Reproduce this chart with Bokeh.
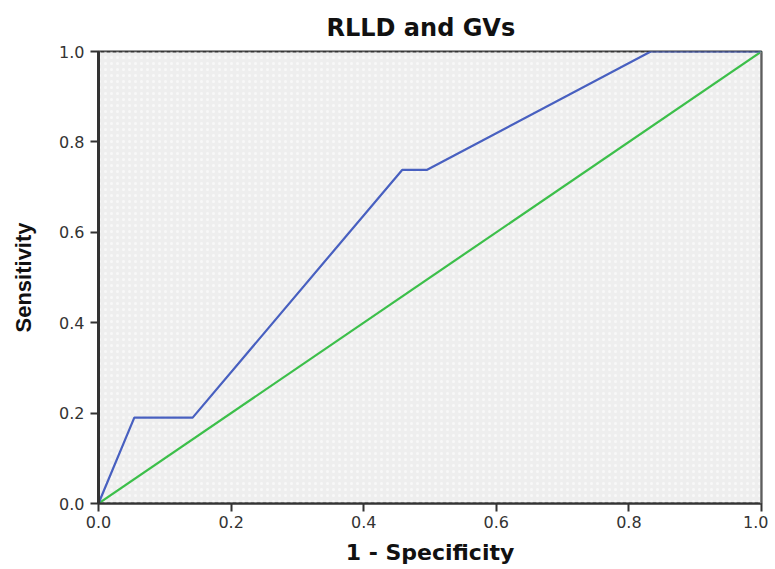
from bokeh.plotting import figure
from bokeh.embed import file_html
from bokeh.resources import INLINE
from bokeh.models import FixedTicker, PrintfTickFormatter, Span, Range1d, BoxAnnotation

# ROC curve data
fpr = [0.0, 0.054, 0.142, 0.458, 0.495, 0.833, 1.0]
tpr = [0.0, 0.190, 0.190, 0.738, 0.738, 1.0, 1.0]
ref_x = [0.0, 1.0]
ref_y = [0.0, 1.0]
ticks = [0.0, 0.2, 0.4, 0.6, 0.8, 1.0]
title_text = "RLLD and GVs"

p = figure(width=768, height=569, output_backend="svg", toolbar_location=None,
           x_range=Range1d(0, 1), y_range=Range1d(0, 1),
           min_border_left=98, min_border_right=7, min_border_top=51, min_border_bottom=66,
           title=title_text)

p.background_fill_color = "#eeeeee"
p.border_fill_color = "white"
p.grid.visible = False
p.outline_line_color = "#333333"
p.outline_line_width = 2

p.add_layout(BoxAnnotation(fill_alpha=0, line_alpha=0, hatch_pattern=".",
                           hatch_color="white", hatch_alpha=0.6, hatch_scale=6,
                           level="underlay"))

p.title.align = "left"
p.title.offset = 228
p.title.standoff = 20
p.title.text_font = "DejaVu Sans"
p.title.text_font_style = "bold"
p.title.text_font_size = "24px"
p.title.text_color = "#111111"

for ax in (p.xaxis[0], p.yaxis[0]):
    ax.ticker = FixedTicker(ticks=ticks)
    ax.formatter = PrintfTickFormatter(format="%.1f")
    ax.minor_tick_line_color = None
    ax.major_tick_in = 0
    ax.major_tick_out = 8
    ax.major_tick_line_width = 2
    ax.major_tick_line_color = "#333333"
    ax.axis_line_color = "#333333"
    ax.major_label_text_font = "DejaVu Sans"
    ax.major_label_text_font_size = "16px"
    ax.major_label_text_color = "#333333"

p.yaxis[0].axis_line_width = 3
p.xaxis[0].axis_line_width = 2
p.yaxis[0].major_label_standoff = 6
p.xaxis[0].major_label_standoff = 4

p.xaxis[0].axis_label = "1 - Specificity"
p.xaxis[0].axis_label_text_font = "DejaVu Sans"
p.xaxis[0].axis_label_text_font_style = "bold"
p.xaxis[0].axis_label_text_font_size = "22px"
p.xaxis[0].axis_label_text_color = "#111111"
p.xaxis[0].axis_label_standoff = 9

p.yaxis[0].axis_label = "Sensitivity"
p.yaxis[0].axis_label_text_font = "Liberation Sans"
p.yaxis[0].axis_label_text_font_style = "bold"
p.yaxis[0].axis_label_text_font_size = "22px"
p.yaxis[0].axis_label_text_color = "#111111"
p.yaxis[0].axis_label_standoff = 20

p.add_layout(Span(location=1.0, dimension="height", line_color="#888888", line_width=3))

p.line(ref_x, ref_y, line_color="#3cbf4a", line_width=2.2)
p.line(fpr, tpr, line_color="#4860c0", line_width=2.2)

open("out.html", "w").write(file_html(p, INLINE))
